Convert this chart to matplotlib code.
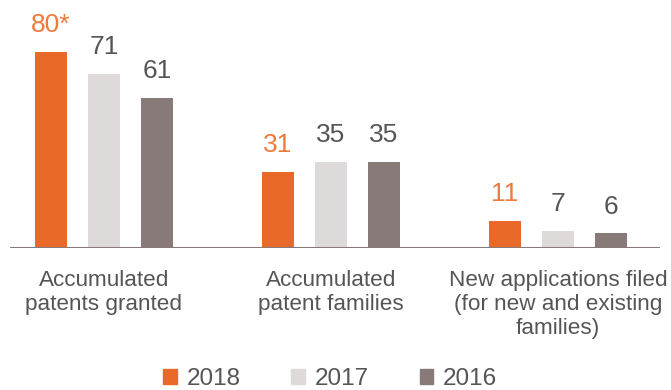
import numpy as np
import matplotlib.pyplot as plt
from matplotlib.patches import Patch

plt.rcParams['font.family'] = ['Liberation Sans Narrow', 'Liberation Sans', 'DejaVu Sans']

categories = ['Accumulated\npatents granted', 'Accumulated\npatent families',
              'New applications filed\n(for new and existing\nfamilies)']
years = ['2018', '2017', '2016']
v2018 = [80, 31, 11]
v2017 = [71, 35, 7]
v2016 = [61, 35, 6]
labels2018 = ['80*', '31', '11']

colors = ['#E8692A', '#DEDAD9', '#877A78']
text_grey = '#555555'

fig = plt.figure(figsize=(6.71, 3.9), dpi=100)
ax = fig.add_axes([10 / 671, 1 - 248 / 390, 650 / 671, 248 / 390])

x = np.arange(len(categories))
w = 0.141
off = 0.233
series = [v2018, v2017, v2016]
for i, vals in enumerate(series):
    bars = ax.bar(x + (i - 1) * off, vals, w, color=colors[i], zorder=2)
    for j, b in enumerate(bars):
        txt = labels2018[j] if i == 0 else str(vals[j])
        ax.text(b.get_x() + b.get_width() / 2, vals[j] + 6.0, txt,
                ha='center', va='bottom', fontsize=19,
                color='#EE7A3C' if i == 0 else text_grey)

ax.set_xlim(-0.414, -0.414 + 650 / 227)
ax.set_ylim(0, 101)
ax.axhline(0, color='#877A78', lw=1.5, zorder=3)
for s in ax.spines.values():
    s.set_visible(False)
ax.set_xticks([])
ax.set_yticks([])

for j, c in enumerate(categories):
    ax.text(x[j], -8.8, c, ha='center', va='top', fontsize=16.2,
            color=text_grey, linespacing=1.2)

handles = [Patch(color=colors[i], label=years[i]) for i in range(3)]
fig.legend(handles=handles, loc='center', bbox_to_anchor=(0.492, 1 - 379 / 390),
           ncol=3, frameon=False, fontsize=17.5, handlelength=0.55, handleheight=0.55,
           columnspacing=2.1, handletextpad=0.4, labelcolor=text_grey)

fig.savefig('out.png', dpi=100)
